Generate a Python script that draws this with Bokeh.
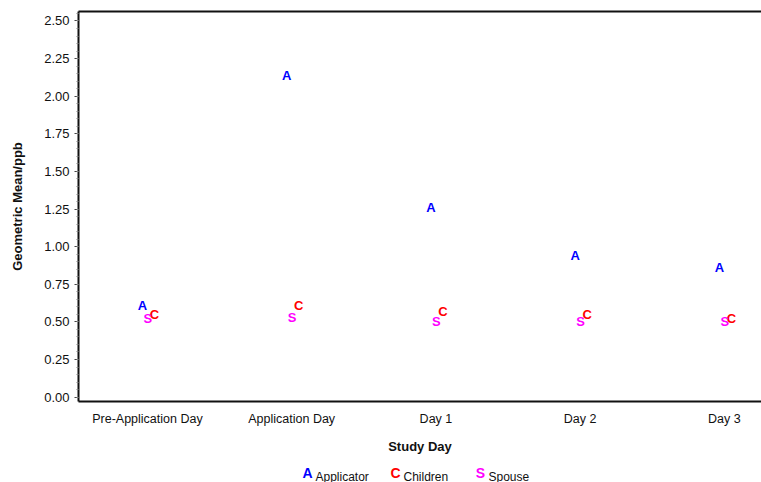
from bokeh.plotting import figure
from bokeh.layouts import column
from bokeh.models import (LinearAxis, FixedTicker, NumeralTickFormatter, Range1d,
                          ColumnDataSource)
from bokeh.core.properties import value
from bokeh.embed import file_html
from bokeh.resources import INLINE

# ---- data ----
study_days = ["Pre-Application Day", "Application Day", "Day 1", "Day 2", "Day 3"]
applicator = [0.61, 2.14, 1.26, 0.94, 0.86]
children = [0.55, 0.61, 0.57, 0.55, 0.52]
spouse = [0.52, 0.53, 0.50, 0.50, 0.50]
y_ticks = [0.0, 0.25, 0.5, 0.75, 1.0, 1.25, 1.5, 1.75, 2.0, 2.25, 2.5]
series_names = ["Applicator", "Children", "Spouse"]
series_letters = ["A", "C", "S"]
series_colors = ["#0000ff", "#ff0000", "#ff00ff"]
series_values = [applicator, children, spouse]
series_dodge = [-0.035, 0.048, 0.003]

FONT = "Liberation Sans"
INK = "#111111"
W = 761
LEFT = 78

p = figure(width=W, height=457, output_backend="svg", toolbar_location=None,
           x_range=Range1d(-0.478, 4.257), y_range=Range1d(-0.029, 2.563),
           min_border_left=LEFT, min_border_right=0, min_border_top=11,
           min_border_bottom=56)
p.outline_line_color = None
p.xgrid.visible = False
p.ygrid.visible = False

xs = list(range(len(study_days)))

# x axis
xa = p.xaxis[0]
xa.ticker = FixedTicker(ticks=xs)
xa.major_label_overrides = {i: s for i, s in zip(xs, study_days)}
xa.major_tick_out = 0
xa.major_tick_in = 0
xa.minor_tick_out = 0
xa.minor_tick_in = 0
xa.axis_line_width = 2
xa.axis_line_color = INK
xa.major_label_standoff = 10
xa.major_label_text_font = FONT
xa.major_label_text_font_size = "12.5px"
xa.major_label_text_color = INK
xa.axis_label = "Study Day"
xa.axis_label_text_font = FONT
xa.axis_label_text_font_style = "bold"
xa.axis_label_text_font_size = "13px"
xa.axis_label_standoff = 10
xa.axis_label_text_color = INK

# y axis
ya = p.yaxis[0]
ya.ticker = FixedTicker(ticks=y_ticks, minor_ticks=[i * 0.05 for i in range(52)])
ya.formatter = NumeralTickFormatter(format="0.00")
ya.major_tick_out = 4
ya.major_tick_in = 0
ya.minor_tick_out = 2
ya.minor_tick_in = 0
ya.axis_line_width = 2
ya.axis_line_color = INK
ya.major_tick_line_color = "#444444"
ya.minor_tick_line_color = "#888888"
ya.major_label_standoff = 5
ya.major_label_text_font = FONT
ya.major_label_text_font_size = "13px"
ya.major_label_text_color = INK
ya.axis_label = "Geometric Mean/ppb"
ya.axis_label_text_font = FONT
ya.axis_label_text_font_style = "bold"
ya.axis_label_text_font_size = "13px"
ya.axis_label_standoff = 16
ya.axis_label_text_color = INK

# top border line
top = LinearAxis(ticker=FixedTicker(ticks=[]), major_label_text_font_size="0px",
                 major_tick_out=0, major_tick_in=0, minor_tick_out=0, minor_tick_in=0,
                 axis_line_width=2, axis_line_color=INK, major_label_standoff=0)
p.add_layout(top, "above")

# letters
for name, letter, vals, color, dodge in zip(series_names, series_letters, series_values,
                                            series_colors, series_dodge):
    src = ColumnDataSource(dict(x=[x + dodge for x in xs], y=vals, t=[letter] * len(vals)))
    p.text(x="x", y="y", text="t", source=src, text_color=color,
           text_font=value(FONT), text_font_style="bold", text_font_size="13px",
           text_align="center", text_baseline="middle")

# legend strip (pixel coordinates; its frame is aligned with the plot frame)
lg = figure(width=W, height=25, output_backend="svg", toolbar_location=None,
            x_range=Range1d(LEFT, W), y_range=Range1d(25, 0),
            x_axis_type=None, y_axis_type=None,
            min_border_left=LEFT, min_border_right=0, min_border_top=0, min_border_bottom=0)
lg.outline_line_color = None
lg.xgrid.visible = False
lg.ygrid.visible = False
leg_x = [307, 395, 480]
lg.text(x=leg_x, y=[15] * 3, text=series_letters, text_color=series_colors,
        text_font=value(FONT), text_font_style="bold", text_font_size="14px",
        text_align="center", text_baseline="middle")
lg.text(x=[x + 8 for x in leg_x], y=[19] * 3, text=series_names, text_color=INK,
        text_font=value(FONT), text_font_size="12px",
        text_align="left", text_baseline="middle")

layout = column(p, lg, spacing=0)
open("out.html", "w").write(file_html(layout, INLINE))
